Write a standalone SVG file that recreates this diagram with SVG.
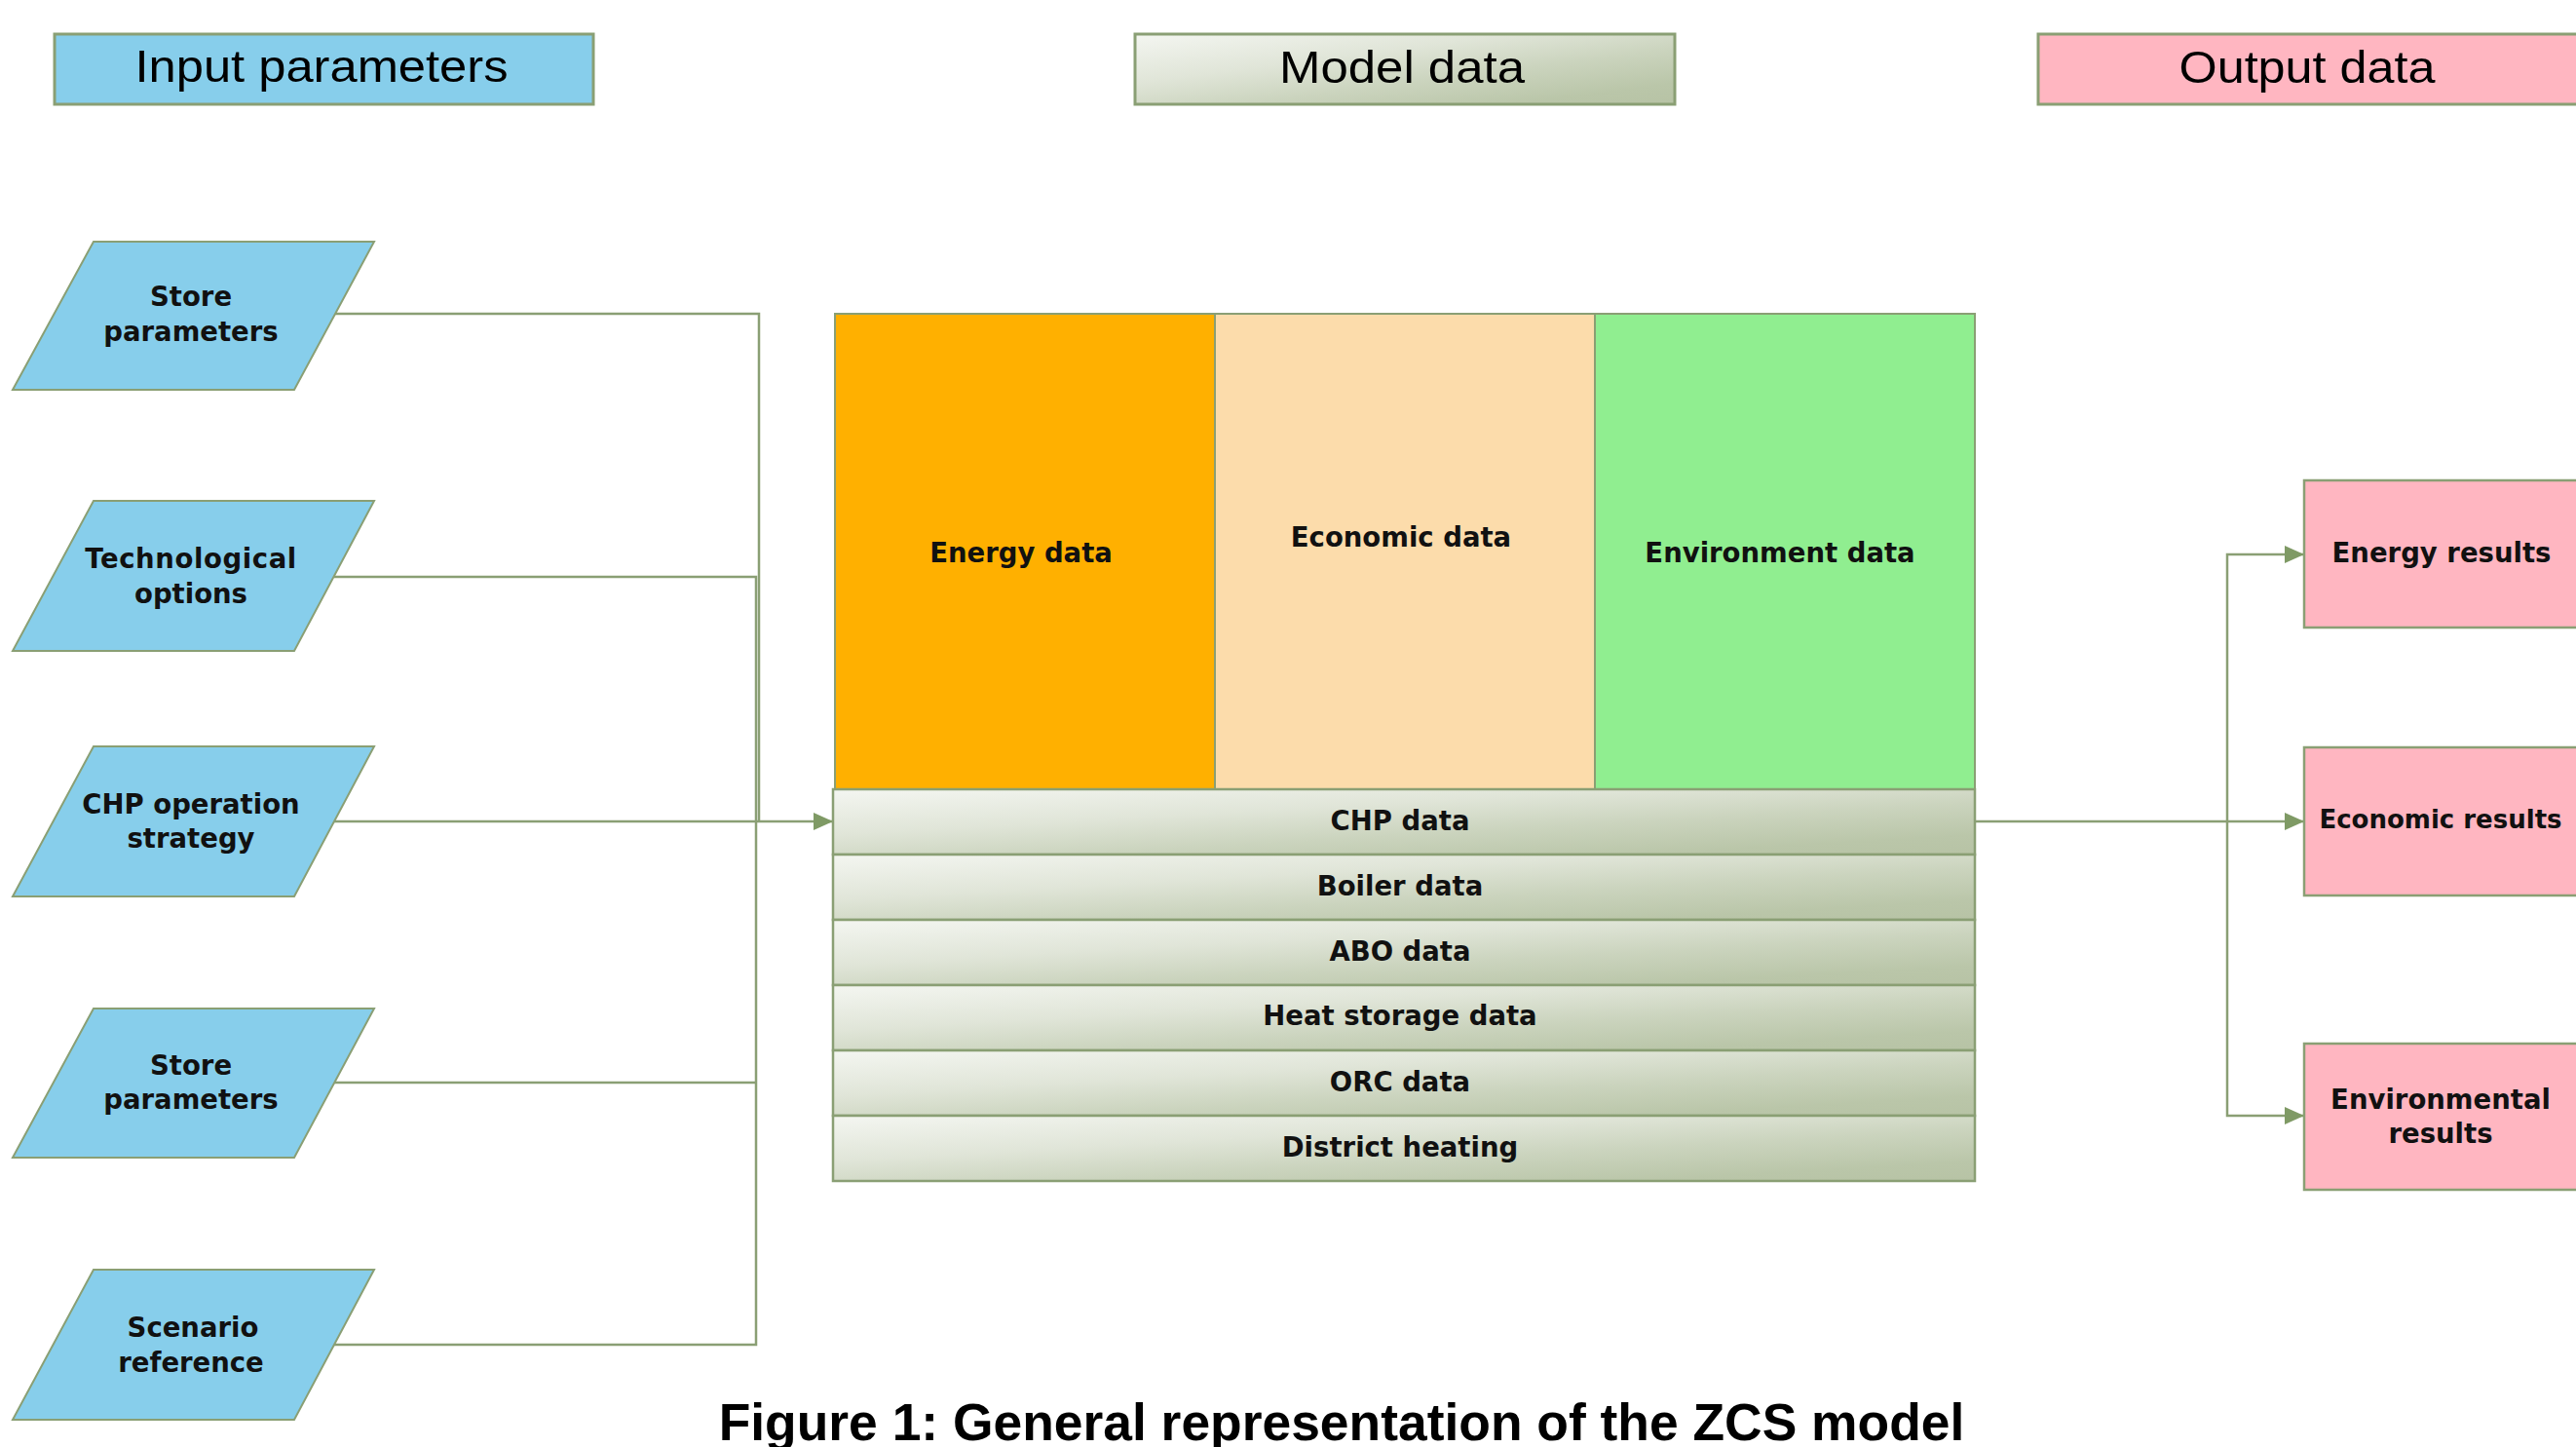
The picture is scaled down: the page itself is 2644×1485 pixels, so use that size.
<svg xmlns="http://www.w3.org/2000/svg" width="2644" height="1485" viewBox="0 0 2644 1485">
  <style>
    .hdr-text { font-family: "Liberation Sans", Arial, sans-serif; font-size: 46px; fill: #000; text-anchor: middle; }
    .lbl { font-family: "DejaVu Sans", Verdana, sans-serif; font-weight: bold; font-size: 27.5px; fill: #111; text-anchor: middle; }
    .cap { font-family: "Liberation Sans", Arial, sans-serif; font-weight: bold; font-size: 53.4px; fill: #000; text-anchor: middle; }
    .input { fill: #87ceeb; stroke: #8a9f74; stroke-width: 2; }
    .output { fill: #ffb6c1; stroke: #8a9f74; stroke-width: 2.5; }
    .row { fill: url(#sage); stroke: #8a9f74; stroke-width: 2.5; }
    .wire { fill: none; stroke: #8a9f74; stroke-width: 2.5; }
  </style>
  <defs>
    <!-- sage shading: light at the top-left corner, settling to grey-green on the right -->
    <linearGradient id="sage" x1="0" y1="0" x2="1" y2="1" gradientUnits="objectBoundingBox">
      <stop offset="0" stop-color="#f4f6f1"/>
      <stop offset="0.35" stop-color="#e0e5d8"/>
      <stop offset="0.6" stop-color="#cbd4be"/>
      <stop offset="0.85" stop-color="#bac6a9"/>
      <stop offset="1" stop-color="#b7c3a5"/>
    </linearGradient>
    <marker id="arrow" markerUnits="userSpaceOnUse" markerWidth="20" markerHeight="18" refX="20" refY="9" orient="auto">
      <path d="M0,0 L20,9 L0,18 Z" fill="#7f9a65"/>
    </marker>
  </defs>

  <rect width="2644" height="1485" fill="#ffffff"/>

  <!-- column headers -->
  <g id="hdr-input">
    <rect x="56" y="35" width="553" height="72" fill="#87ceeb" stroke="#8a9f74" stroke-width="3"/>
    <text class="hdr-text" x="330" y="84" textLength="383" lengthAdjust="spacingAndGlyphs">Input parameters</text>
  </g>
  <g id="hdr-model">
    <rect x="1165" y="35" width="554" height="72" fill="url(#sage)" stroke="#8a9f74" stroke-width="3"/>
    <text class="hdr-text" x="1439" y="85" textLength="252" lengthAdjust="spacingAndGlyphs">Model data</text>
  </g>
  <g id="hdr-output">
    <rect x="2092" y="35" width="556" height="72" fill="#ffb6c1" stroke="#8a9f74" stroke-width="3"/>
    <text class="hdr-text" x="2368" y="85" textLength="263" lengthAdjust="spacingAndGlyphs">Output data</text>
  </g>

  <!-- connectors -->
  <g id="connectors">
    <path class="wire" d="M343,322 H779 V843"/>
    <path class="wire" d="M343,592 H776 V843"/>
    <path class="wire" d="M343,1111 H776"/>
    <path class="wire" d="M343,1380 H776 V843"/>
    <path class="wire" d="M343,843 H855" marker-end="url(#arrow)"/>
    <path class="wire" d="M2027,843 H2365" marker-end="url(#arrow)"/>
    <path class="wire" d="M2286,843 V569 H2365" marker-end="url(#arrow)"/>
    <path class="wire" d="M2286,843 V1145 H2365" marker-end="url(#arrow)"/>
  </g>

  <!-- input parallelograms -->
  <g id="in-store-1">
    <polygon class="input" points="96,248 384,248 302,400 13,400"/>
    <text class="lbl" x="196" y="314">Store</text>
    <text class="lbl" x="196" y="350">parameters</text>
  </g>
  <g id="in-technological">
    <polygon class="input" points="96,514 384,514 302,668 13,668"/>
    <text class="lbl" x="196" y="583" style="letter-spacing:0.6px">Technological</text>
    <text class="lbl" x="196" y="619">options</text>
  </g>
  <g id="in-chp-strategy">
    <polygon class="input" points="96,766 384,766 302,920 13,920"/>
    <text class="lbl" x="196" y="835">CHP operation</text>
    <text class="lbl" x="196" y="870">strategy</text>
  </g>
  <g id="in-store-2">
    <polygon class="input" points="96,1035 384,1035 302,1188 13,1188"/>
    <text class="lbl" x="196" y="1103">Store</text>
    <text class="lbl" x="196" y="1138">parameters</text>
  </g>
  <g id="in-scenario">
    <polygon class="input" points="96,1303 384,1303 302,1457 13,1457"/>
    <text class="lbl" x="198" y="1372">Scenario</text>
    <text class="lbl" x="196" y="1408">reference</text>
  </g>

  <!-- model data block: three data categories -->
  <g id="energy-data">
    <rect x="857" y="322" width="390" height="488" fill="#ffb000" stroke="#8a9f74" stroke-width="2"/>
    <text class="lbl" x="1048" y="577">Energy data</text>
  </g>
  <g id="economic-data">
    <rect x="1247" y="322" width="390" height="488" fill="#fcdcab" stroke="#8a9f74" stroke-width="2"/>
    <text class="lbl" x="1438" y="561">Economic data</text>
  </g>
  <g id="environment-data">
    <rect x="1637" y="322" width="390" height="488" fill="#90ee90" stroke="#8a9f74" stroke-width="2"/>
    <text class="lbl" x="1827" y="577">Environment data</text>
  </g>

  <!-- model data block: component rows -->
  <g id="row-chp">
    <rect class="row" x="855" y="810" width="1172" height="67"/>
    <text class="lbl" x="1437" y="852">CHP data</text>
  </g>
  <g id="row-boiler">
    <rect class="row" x="855" y="877" width="1172" height="67"/>
    <text class="lbl" x="1437" y="919">Boiler data</text>
  </g>
  <g id="row-abo">
    <rect class="row" x="855" y="944" width="1172" height="67"/>
    <text class="lbl" x="1437" y="986">ABO data</text>
  </g>
  <g id="row-heat-storage">
    <rect class="row" x="855" y="1011" width="1172" height="67"/>
    <text class="lbl" x="1437" y="1052">Heat storage data</text>
  </g>
  <g id="row-orc">
    <rect class="row" x="855" y="1078" width="1172" height="67"/>
    <text class="lbl" x="1437" y="1120">ORC data</text>
  </g>
  <g id="row-district">
    <rect class="row" x="855" y="1145" width="1172" height="67"/>
    <text class="lbl" x="1437" y="1187">District heating</text>
  </g>

  <!-- output results -->
  <g id="out-energy">
    <rect class="output" x="2365" y="493" width="285" height="151"/>
    <text class="lbl" x="2506" y="577">Energy results</text>
  </g>
  <g id="out-economic">
    <rect class="output" x="2365" y="767" width="285" height="152"/>
    <text class="lbl" x="2505" y="850" style="font-size:26px">Economic results</text>
  </g>
  <g id="out-environmental">
    <rect class="output" x="2365" y="1071" width="285" height="150"/>
    <text class="lbl" x="2505" y="1138">Environmental</text>
    <text class="lbl" x="2505" y="1173">results</text>
  </g>

  <!-- caption -->
  <text class="cap" x="1377" y="1478">Figure 1: General representation of the ZCS model</text>
</svg>
